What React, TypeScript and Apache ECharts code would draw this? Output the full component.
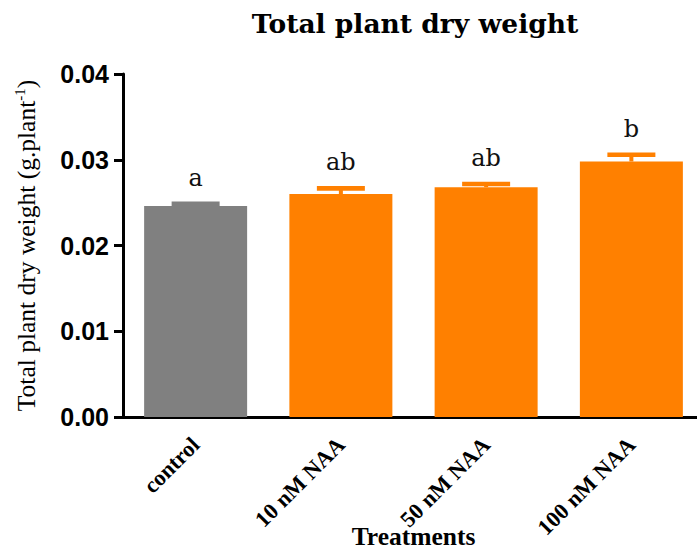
import React, { useEffect, useRef } from "react";
import * as echarts from "echarts";

const categories = ["control", "10 nM NAA", "50 nM NAA", "100 nM NAA"];
const means = [0.0246, 0.026, 0.0268, 0.0298];
const sem = [0.00025, 0.00066, 0.00038, 0.00078];
const letters = ["a", "ab", "ab", "b"];
const yTicks = { min: 0, max: 0.04, interval: 0.01 };

const GRAY = "#808080";
const ORANGE = "#FF8000";

export default function App() {
  const ref = useRef<HTMLDivElement>(null);
  useEffect(() => {
    if (!ref.current) return;
    const chart = echarts.init(ref.current, null, { renderer: "svg" });
    const colorOf = (i: number) => (i === 0 ? GRAY : ORANGE);
    const option: any = {
      animation: false,
      title: {
        text: "Total plant dry weight",
        left: 410,
        top: 5,
        textAlign: "center",
        textStyle: { fontFamily: "DejaVu Serif", fontWeight: "bold", fontSize: 26.5, color: "#000" },
      },
      grid: { left: 123, right: -7, top: 74, bottom: 132, containLabel: false, outerBoundsMode: "none" },
      xAxis: {
        type: "category",
        data: categories,
        name: "Treatments",
        nameLocation: "middle",
        nameGap: 106,
        nameMoveOverlap: false,
        nameTextStyle: { fontFamily: "Liberation Serif", fontWeight: "bold", fontSize: 25.5, color: "#000" },
        axisLine: { lineStyle: { color: "#000", width: 3 } },
        axisTick: { alignWithLabel: true, length: 10, lineStyle: { color: "#000", width: 3 } },
        axisLabel: {
          rotate: 45,
          margin: 24,
          fontFamily: "Liberation Serif",
          fontWeight: "bold",
          fontSize: 22.5,
          color: "#000",
        },
      },
      yAxis: {
        type: "value",
        min: yTicks.min,
        max: yTicks.max,
        interval: yTicks.interval,
        name: "{t|Total plant dry weight (g.plant}{s|-1}{t|)}",
        nameLocation: "middle",
        nameGap: 83,
        nameMoveOverlap: false,
        nameTextStyle: {
          color: "#000",
          rich: {
            t: { fontFamily: "Liberation Serif", fontSize: 25.5, color: "#000", lineHeight: 28 },
            s: { fontFamily: "Liberation Serif", fontSize: 15, color: "#000", lineHeight: 28, verticalAlign: "top" },
          },
        },
        axisLine: { show: true, lineStyle: { color: "#000", width: 3 } },
        axisTick: { show: true, length: 9, lineStyle: { color: "#000", width: 3 } },
        splitLine: { show: false },
        axisLabel: {
          formatter: (v: number) => v.toFixed(2),
          fontFamily: "Liberation Sans",
          fontWeight: "bold",
          fontSize: 25,
          color: "#000",
          margin: 14,
        },
      },
      series: [
        {
          type: "bar",
          data: means,
          barWidth: 103,
          itemStyle: { color: (p: any) => colorOf(p.dataIndex) },
          z: 2,
        },
        {
          type: "custom",
          z: 3,
          data: means.map((m, i) => [i, m, m + sem[i]]),
          encode: { x: 0, y: 2 },
          renderItem: (params: any, api: any) => {
            const idx = params.dataIndex;
            const top = api.coord([api.value(0), api.value(2)]);
            const base = api.coord([api.value(0), api.value(1)]);
            const c = colorOf(idx);
            return {
              type: "group",
              children: [
                { type: "rect", shape: { x: top[0] - 2, y: top[1], width: 4, height: base[1] - top[1] }, style: { fill: c } },
                { type: "rect", shape: { x: top[0] - 24, y: top[1] - 2.3, width: 48, height: 4.6 }, style: { fill: c } },
                {
                  type: "text",
                  style: {
                    text: letters[idx],
                    x: top[0],
                    y: top[1] - 14,
                    align: "center",
                    verticalAlign: "bottom",
                    fontFamily: "DejaVu Serif",
                    fontSize: 24,
                    fill: "#111",
                  },
                },
              ],
            };
          },
        },
      ],
    };
    chart.setOption(option);
    return () => chart.dispose();
  }, []);
  return <div ref={ref} style={{ position: "fixed", left: 0, top: 0, width: 697, height: 549, background: "#fff" }} />;
}
